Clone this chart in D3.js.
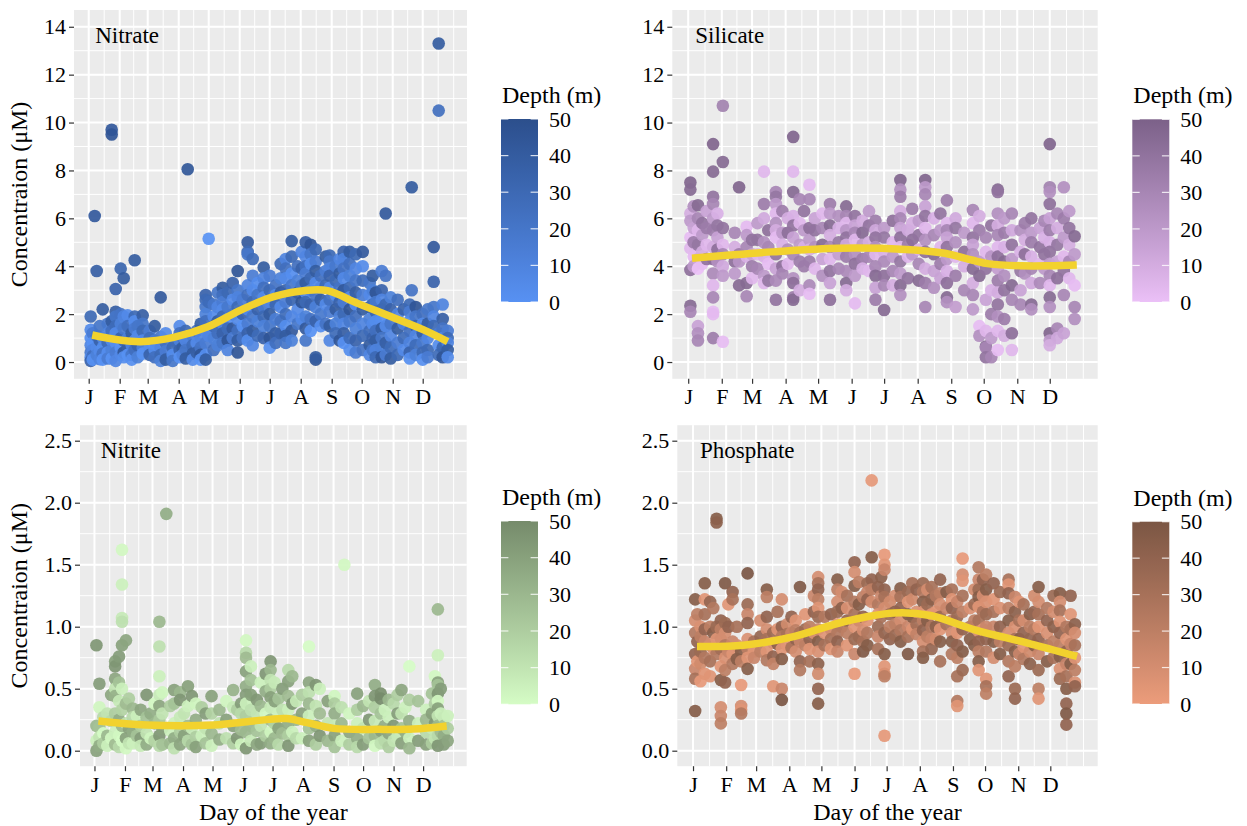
<!DOCTYPE html>
<html><head><meta charset="utf-8">
<script src="https://cdn.jsdelivr.net/npm/d3@7"></script>
<style>body{margin:0;background:#fff} text{font-family:"Liberation Serif","Times New Roman",serif;fill:#000}</style>
</head><body>
<svg id="chart" width="1247" height="826"></svg>
<script>
// ---------- axis values ----------
const monthDays = [1,32,60,91,121,152,182,213,244,274,305,335];
const monthLabels = ["J","F","M","A","M","J","J","A","S","O","N","D"];
const topYTicks = [0,2,4,6,8,10,12,14];
const bottomYTicks = [0,0.5,1,1.5,2,2.5];
const depthTicks = [0,10,20,30,40,50];

// ---------- data: [day, [[concentration, depth], ...]] ----------
const nitrate = [
 [3,[[1.9,30],[1.35,5],[1.0,2],[0.7,10],[0.4,20],[0.2,3],[0.05,35]]],
 [5,[[1.2,15],[0.8,0],[0.5,8],[0.25,25],[0.1,0]]],
 [7,[[6.1,42]]],
 [9,[[3.8,38],[1.1,20],[0.6,5],[0.3,12]]],
 [12,[[1.5,20],[0.9,35],[0.45,5],[0.12,10]]],
 [15,[[2.2,40],[1.0,8],[0.6,3],[0.35,22],[0.1,0]]],
 [20,[[1.6,18],[1.2,10],[0.8,30],[0.4,2],[0.15,15]]],
 [24,[[9.7,42],[9.5,45],[1.7,40],[1.3,25],[0.9,5],[0.5,12],[0.15,0]]],
 [28,[[3.05,35],[2.1,38],[1.9,20],[1.5,28],[1.2,5],[0.8,2],[0.4,15],[0.05,8]]],
 [33,[[3.9,33],[2.0,22],[1.6,12],[1.0,35],[0.6,0],[0.3,6]]],
 [36,[[3.5,40],[1.9,10],[1.4,18],[0.9,30],[0.4,45],[0.2,3]]],
 [40,[[1.95,5],[1.5,25],[1.0,12],[0.6,38],[0.3,0]]],
 [44,[[1.2,40],[0.7,10],[0.3,20],[0.1,2]]],
 [47,[[4.25,40],[1.9,30],[1.7,3],[1.4,15],[0.9,8],[0.5,25]]],
 [50,[[1.5,20],[1.1,5],[0.7,35],[0.2,12]]],
 [55,[[1.95,38],[1.6,20],[1.3,30],[0.9,5],[0.6,12],[0.35,0]]],
 [62,[[1.3,15],[1.0,28],[0.6,3],[0.3,35]]],
 [67,[[1.5,40],[0.9,15],[0.5,3],[0.2,25]]],
 [73,[[2.7,42],[1.05,20],[0.6,8],[0.3,30],[0.05,12]]],
 [78,[[1.2,5],[0.8,25],[0.45,15],[0.1,40]]],
 [85,[[0.9,10],[0.6,30],[0.3,3],[0.05,20]]],
 [92,[[1.5,5],[1.2,25],[0.9,12],[0.5,35],[0.2,0]]],
 [95,[[1.0,20],[0.6,40],[0.3,10]]],
 [98,[[1.3,30],[0.9,8],[0.5,20],[0.15,40]]],
 [100,[[8.05,44]]],
 [105,[[1.1,15],[0.7,28],[0.35,40],[0.1,5]]],
 [109,[[1.3,25],[0.8,5],[0.4,38]]],
 [113,[[1.6,38],[1.0,10],[0.6,22],[0.3,45],[0.1,0]]],
 [118,[[2.8,35],[2.6,30],[2.3,20],[2.0,12],[1.7,25],[1.3,5],[0.8,15],[0.3,2],[0.1,40]]],
 [121,[[5.15,0],[2.5,28],[1.1,8]]],
 [126,[[2.4,20],[1.9,5],[1.5,30],[1.0,12],[0.5,25]]],
 [130,[[2.9,20],[2.3,8],[1.7,40],[1.2,25],[0.7,12]]],
 [135,[[3.1,40],[2.8,25],[2.5,15],[2.2,5],[1.9,30],[1.6,10],[1.2,35],[0.8,20]]],
 [140,[[2.9,30],[2.3,18],[1.8,2],[1.4,28],[0.9,45],[0.5,10]]],
 [145,[[3.3,35],[2.6,5],[2.0,20],[1.4,42],[1.0,15]]],
 [150,[[3.8,45],[3.0,20],[2.7,10],[2.3,30],[1.8,5],[1.3,25],[0.9,40],[0.4,45]]],
 [155,[[2.6,15],[2.0,35],[1.5,0],[1.0,22]]],
 [160,[[5.0,42],[4.6,30],[4.5,20],[3.2,10],[2.8,25],[2.2,5],[1.6,15],[1.2,35],[0.9,3]]],
 [165,[[4.3,28],[3.6,15],[3.0,5],[2.5,30],[1.9,20],[1.3,40],[0.7,8]]],
 [170,[[3.3,3],[2.8,20],[2.2,35],[1.7,12],[1.1,28]]],
 [176,[[3.95,40],[3.5,10],[3.1,25],[2.7,5],[2.3,18],[1.9,30],[1.5,12],[1.0,35]]],
 [182,[[3.6,15],[3.0,30],[2.5,8],[2.0,40],[1.5,20],[1.0,45],[0.6,2]]],
 [188,[[3.2,22],[2.8,5],[2.4,32],[1.8,14],[1.2,38],[0.8,25]]],
 [193,[[4.1,30],[3.5,12],[2.9,42],[2.3,5],[1.7,22],[1.2,35]]],
 [198,[[4.3,10],[3.9,25],[3.5,5],[3.0,35],[2.5,15],[2.0,28],[1.5,3],[1.1,40],[0.8,20]]],
 [204,[[5.05,40],[4.4,30],[3.7,2],[3.2,18],[2.6,32],[1.9,8],[1.3,42],[0.9,12]]],
 [210,[[4.0,25],[3.4,12],[2.9,38],[2.2,6],[1.6,20]]],
 [214,[[4.6,10],[3.9,35],[3.2,20],[2.5,45],[1.8,5]]],
 [218,[[5.0,38],[4.4,8],[4.0,25],[3.7,15],[3.3,40],[2.9,5],[2.5,30],[1.9,12],[1.4,42],[0.9,20]]],
 [223,[[4.9,45],[4.5,20],[4.1,3],[3.5,30],[3.0,10],[2.4,35],[1.8,22],[1.3,0]]],
 [228,[[4.7,30],[4.2,15],[3.8,40],[3.3,5],[2.8,22],[2.3,12],[1.7,35],[0.1,45],[0.2,40]]],
 [233,[[3.6,25],[3.1,8],[2.6,38],[2.0,18],[1.5,2]]],
 [238,[[4.4,40],[3.8,15],[3.2,30],[2.4,5],[1.6,22]]],
 [242,[[4.45,30],[4.2,20],[3.9,10],[3.6,35],[3.1,5],[2.6,25],[2.1,15],[1.5,40],[0.9,8]]],
 [248,[[4.0,18],[3.4,30],[2.8,2],[2.2,40],[1.6,12],[1.2,28]]],
 [252,[[4.3,8],[3.7,40],[3.1,22],[2.5,35],[1.9,12],[0.9,45]]],
 [256,[[4.6,35],[4.3,10],[3.9,22],[3.5,5],[3.0,42],[2.5,15],[2.0,30],[1.6,8],[1.2,38],[0.8,0]]],
 [262,[[4.6,40],[4.1,25],[3.6,12],[3.1,30],[2.7,5],[2.2,45],[1.7,18],[1.0,28],[0.5,3]]],
 [268,[[4.5,30],[3.9,8],[3.4,20],[2.9,38],[2.4,2],[1.9,25],[1.4,12],[0.9,35],[0.4,15]]],
 [275,[[4.6,42],[4.0,5],[3.4,28],[2.8,15],[2.2,40],[1.6,10],[1.1,30],[0.5,22]]],
 [282,[[3.3,20],[2.8,5],[2.3,35],[1.8,12],[1.3,28],[0.7,40],[0.3,8]]],
 [285,[[3.6,40],[3.0,12],[2.4,28],[1.6,5],[1.0,35],[0.5,20]]],
 [288,[[2.9,45],[2.5,18],[2.1,32],[1.7,3],[1.3,25],[0.9,40],[0.5,10],[0.2,30]]],
 [294,[[3.8,15],[3.0,35],[2.6,8],[2.2,28],[1.8,2],[1.4,40],[1.0,20],[0.6,12],[0.2,45]]],
 [298,[[6.2,42],[3.6,22],[2.4,30],[1.5,5],[0.8,38],[0.3,15]]],
 [303,[[2.7,12],[2.2,35],[1.6,20],[1.1,8],[0.6,28],[0.15,40]]],
 [310,[[2.6,25],[2.0,8],[1.4,40],[0.8,15],[0.3,30]]],
 [316,[[2.2,35],[1.6,10],[1.0,28],[0.5,5]]],
 [322,[[2.4,30],[2.1,15],[1.7,5],[1.3,25],[0.8,10],[0.4,35],[0.15,2]]],
 [324,[[7.3,40],[3.0,22]]],
 [328,[[2.3,45],[1.9,20],[1.5,35],[1.1,8],[0.7,28],[0.3,12]]],
 [335,[[2.0,25],[1.6,5],[1.2,38],[0.8,18],[0.4,30],[0.1,2]]],
 [340,[[2.2,20],[1.6,40],[1.0,8],[0.5,30],[0.2,15]]],
 [346,[[4.8,42],[3.35,35],[2.3,20],[1.9,8],[1.5,30]]],
 [351,[[13.3,40],[10.5,25],[1.2,15],[0.7,3],[0.3,28]]],
 [355,[[2.4,10],[1.8,38],[1.4,22],[1.0,5],[0.6,32],[0.2,45]]],
 [360,[[1.3,15],[1.0,30],[0.8,10],[0.5,40],[0.2,5]]]
];

const silicate = [
 [3,[[7.5,48],[7.2,45],[6.2,10],[5.9,20],[5.2,2],[4.75,5],[3.85,42],[2.35,45],[2.1,30]]],
 [6,[[6.5,25],[5.6,15],[5.0,35],[4.4,3],[4.0,20]]],
 [10,[[6.55,45],[6.0,30],[5.5,5],[4.9,38],[4.3,12],[3.9,0],[1.5,15],[1.2,25],[0.9,30]]],
 [14,[[5.8,40],[5.3,20],[4.6,10],[4.1,2]]],
 [18,[[6.3,15],[5.6,35],[4.9,5],[4.3,40]]],
 [24,[[9.1,48],[7.95,45],[6.9,40],[6.6,30],[6.0,20],[5.5,35],[4.8,10],[4.3,42],[3.7,28],[3.2,5],[2.7,30],[2.1,2],[2.0,3],[1.0,35]]],
 [28,[[6.2,8],[5.7,38],[5.2,15],[4.7,42],[4.2,25]]],
 [33,[[10.7,32],[8.35,45],[5.6,40],[4.9,5],[4.5,30],[4.0,12],[3.6,20],[0.85,2]]],
 [44,[[5.4,30],[4.8,10],[4.2,42],[3.7,20]]],
 [48,[[7.3,48],[4.5,35],[4.2,22],[3.2,45]]],
 [55,[[5.65,3],[5.3,20],[4.8,30],[4.4,8],[3.3,45],[2.75,30]]],
 [60,[[5.1,40],[4.5,15],[4.0,35],[3.5,5]]],
 [65,[[5.8,20],[5.1,40],[4.5,5],[3.9,30]]],
 [71,[[7.95,5],[6.6,35],[6.0,12],[5.0,25],[4.4,8],[3.6,20],[3.3,5]]],
 [75,[[5.5,42],[4.8,30],[4.1,2],[3.4,38]]],
 [82,[[7.1,30],[6.9,38],[6.6,20],[6.2,5],[5.8,25],[5.5,10],[5.2,3],[4.5,40],[3.9,15],[3.4,28],[2.6,40]]],
 [88,[[6.3,35],[5.4,20],[4.9,8],[4.0,42],[3.7,30]]],
 [93,[[6.0,10],[5.4,42],[4.7,25],[4.1,5]]],
 [98,[[9.4,48],[7.95,5],[7.1,45],[6.1,8],[5.7,40],[5.2,15],[4.5,30],[3.5,25],[3.3,42],[2.7,35],[2.6,45]]],
 [104,[[6.8,30],[5.8,5],[4.9,20],[4.2,35],[3.0,10]]],
 [108,[[6.3,40],[5.5,20],[4.8,8],[4.0,35]]],
 [113,[[7.4,3],[6.8,30],[5.6,42],[5.1,20],[4.7,8],[4.2,35],[3.2,28],[2.85,2]]],
 [118,[[6.0,15],[5.5,40],[4.8,25],[3.9,5]]],
 [125,[[6.2,5],[5.6,30],[4.9,45],[4.3,15],[3.6,25]]],
 [132,[[6.6,35],[6.2,20],[5.7,45],[5.3,10],[4.8,30],[4.3,5],[3.8,40],[3.3,15],[2.6,42]]],
 [140,[[6.1,25],[5.6,8],[5.0,38],[4.5,18],[3.9,30]]],
 [147,[[6.5,45],[6.1,30],[5.8,5],[5.5,22],[5.2,40],[4.9,12],[4.4,35],[3.8,28],[3.3,45],[3.0,10]]],
 [155,[[6.1,40],[5.7,15],[5.4,30],[5.1,5],[4.5,25],[4.1,42],[3.6,20],[2.45,3]]],
 [162,[[5.9,10],[5.4,45],[4.9,20],[4.3,35],[3.9,8]]],
 [168,[[6.3,20],[5.7,40],[5.0,10],[4.4,30],[3.8,5]]],
 [174,[[5.9,35],[5.5,12],[5.2,40],[4.8,25],[4.5,5],[4.0,30],[3.6,45],[3.1,15],[2.6,35]]],
 [182,[[5.6,20],[5.2,38],[4.6,8],[4.2,28],[3.6,42],[3.2,30],[2.17,45]]],
 [190,[[5.9,42],[5.0,5],[4.4,20],[3.8,30],[3.2,10]]],
 [197,[[7.6,48],[7.2,25],[6.9,35],[6.3,10],[6.0,30],[5.6,15],[5.2,42],[4.8,5],[4.2,38],[3.7,20],[3.2,45],[2.8,25]]],
 [204,[[5.5,12],[4.9,35],[4.4,5],[3.5,40]]],
 [208,[[6.4,35],[5.8,10],[5.1,42],[4.5,20]]],
 [214,[[5.9,20],[5.3,40],[4.7,8],[4.1,30],[3.4,45]]],
 [220,[[7.6,48],[7.3,20],[7.0,30],[6.5,15],[6.1,40],[5.6,5],[5.1,25],[4.6,42],[3.9,10],[3.3,35],[2.3,30]]],
 [228,[[6.0,8],[5.3,30],[4.5,45],[3.8,15],[3.1,25]]],
 [234,[[6.2,40],[5.5,20],[4.8,5],[4.1,35],[3.5,15]]],
 [240,[[6.75,35],[5.8,5],[5.5,30],[5.2,15],[4.8,40],[4.3,20],[3.8,8],[3.3,42],[2.7,45],[2.5,25]]],
 [248,[[6.0,12],[5.6,38],[5.0,25],[4.4,5],[3.6,35],[2.3,18]]],
 [256,[[5.4,20],[4.6,42],[4.0,10],[3.0,30]]],
 [264,[[6.35,30],[5.8,5],[5.2,40],[4.9,15],[4.5,25],[3.9,45],[3.3,10],[2.8,30],[2.2,20]]],
 [270,[[6.1,10],[5.5,35],[4.2,20],[3.6,45],[1.5,2],[1.1,25]]],
 [276,[[5.2,30],[4.6,5],[3.9,40],[2.6,15],[1.3,5],[0.65,45],[0.6,30],[0.2,40]]],
 [281,[[5.7,40],[4.4,22],[3.0,8],[2.0,35],[1.0,20],[0.2,30]]],
 [287,[[7.2,45],[7.1,40],[6.2,25],[5.7,10],[5.3,30],[4.8,5],[4.4,42],[3.9,18],[3.4,35],[2.9,10],[2.4,40],[1.9,25],[1.3,5],[0.5,2]]],
 [293,[[6.0,20],[5.4,35],[4.8,8],[4.2,45],[3.6,25],[3.0,40],[1.8,35],[1.1,10]]],
 [300,[[6.2,30],[5.5,12],[4.9,40],[4.3,20],[3.2,45],[2.6,30],[1.2,42],[0.5,5]]],
 [308,[[5.5,25],[4.6,8],[3.8,38],[3.0,15],[2.4,30]]],
 [312,[[5.8,35],[5.1,10],[4.5,42],[3.7,25]]],
 [318,[[6.0,40],[5.4,20],[5.0,35],[4.4,8],[3.9,30],[3.3,12],[2.4,45],[2.2,25]]],
 [326,[[5.6,15],[4.8,40],[4.1,5],[3.3,28]]],
 [330,[[5.9,30],[5.2,8],[4.5,40],[3.9,20]]],
 [335,[[9.1,48],[7.3,32],[7.1,25],[6.6,42],[6.0,15],[5.5,35],[5.0,8],[4.6,40],[4.1,20],[3.6,30],[3.2,5],[2.7,45],[2.3,25],[1.2,48],[0.9,20],[0.7,10]]],
 [342,[[6.2,30],[5.6,10],[4.9,38],[4.2,15],[3.5,42],[1.4,30],[1.0,12]]],
 [348,[[7.3,25],[6.0,35],[5.2,20],[4.4,5],[3.8,40],[2.8,30],[1.2,15]]],
 [353,[[6.3,20],[5.6,40],[4.9,10],[4.2,30],[3.5,5]]],
 [358,[[5.25,45],[4.5,20],[3.2,2],[2.3,30],[1.8,25]]]
];

const nitrite = [
 [3,[[0.85,45],[0.2,30],[0.08,5],[0.0,40]]],
 [6,[[0.54,42],[0.35,3],[0.19,25],[0.11,10],[0.04,35]]],
 [10,[[0.27,15],[0.14,0],[0.06,20]]],
 [14,[[0.3,10],[0.12,30],[0.04,5]]],
 [18,[[0.45,38],[0.24,15],[0.1,2]]],
 [22,[[0.72,40],[0.68,45],[0.58,38],[0.5,10],[0.44,32],[0.3,20],[0.15,5],[0.05,28]]],
 [26,[[0.76,42],[0.55,25],[0.4,8],[0.25,35],[0.12,2],[0.03,15]]],
 [29,[[1.62,2],[1.34,5],[1.07,8],[1.04,12],[0.85,40],[0.5,5],[0.33,18],[0.2,30],[0.08,0]]],
 [33,[[0.89,38],[0.38,28],[0.22,10],[0.1,40],[0.02,2]]],
 [36,[[0.42,20],[0.18,40],[0.06,10]]],
 [40,[[0.34,30],[0.27,15],[0.15,35],[0.06,5]]],
 [44,[[0.28,5],[0.12,25]]],
 [48,[[0.33,38],[0.2,20],[0.1,42],[0.04,8]]],
 [54,[[0.45,45],[0.27,25],[0.14,10],[0.05,35]]],
 [58,[[0.3,35],[0.1,3]]],
 [62,[[0.38,2],[0.22,30],[0.08,18]]],
 [67,[[1.04,30],[0.84,12],[0.6,5],[0.45,8],[0.36,38],[0.25,22],[0.12,45],[0.04,15]]],
 [70,[[0.47,3],[0.3,10],[0.18,40],[0.05,25]]],
 [74,[[1.91,35]]],
 [78,[[0.36,20],[0.16,5],[0.06,30]]],
 [82,[[0.49,40],[0.38,25],[0.22,5],[0.1,35],[0.02,12]]],
 [88,[[0.47,30],[0.41,45],[0.27,8],[0.15,20],[0.05,38]]],
 [92,[[0.3,10],[0.12,40]]],
 [96,[[0.52,40],[0.36,5],[0.2,28],[0.08,15]]],
 [100,[[0.44,45],[0.18,8],[0.05,25]]],
 [104,[[0.38,3],[0.25,35],[0.11,20],[0.03,40]]],
 [110,[[0.35,20],[0.12,5]]],
 [114,[[0.3,42],[0.18,10],[0.06,25]]],
 [120,[[0.44,40],[0.3,18],[0.14,30],[0.04,5]]],
 [128,[[0.33,30],[0.22,12],[0.09,35]]],
 [135,[[0.4,3],[0.25,40],[0.1,12]]],
 [142,[[0.49,32],[0.35,8],[0.2,40],[0.06,20]]],
 [146,[[0.33,20],[0.1,45]]],
 [150,[[0.38,42],[0.3,15],[0.17,28],[0.05,3]]],
 [155,[[0.89,2],[0.79,15],[0.75,28],[0.64,40],[0.52,35],[0.45,42],[0.38,5],[0.28,20],[0.15,30],[0.02,45]]],
 [160,[[0.68,5],[0.57,25],[0.45,40],[0.33,12],[0.2,30],[0.08,8]]],
 [166,[[0.41,44],[0.3,10],[0.16,25],[0.05,38]]],
 [170,[[0.55,5],[0.36,30],[0.2,10],[0.06,42]]],
 [175,[[0.62,45],[0.48,35],[0.3,2],[0.12,20]]],
 [180,[[0.72,45],[0.65,30],[0.57,10],[0.5,20],[0.43,40],[0.35,8],[0.25,28],[0.15,3],[0.06,35]]],
 [184,[[0.55,8],[0.4,40],[0.22,18],[0.1,30]]],
 [188,[[0.42,25],[0.3,5],[0.18,40],[0.05,15]]],
 [192,[[0.5,42],[0.33,12],[0.14,28]]],
 [198,[[0.65,15],[0.56,40],[0.44,28],[0.33,5],[0.22,35],[0.12,20],[0.04,45]]],
 [202,[[0.6,30],[0.38,45],[0.15,5]]],
 [206,[[0.4,8],[0.25,30],[0.1,15]]],
 [212,[[0.45,20],[0.3,40],[0.1,5]]],
 [219,[[0.84,0],[0.55,38],[0.47,12],[0.38,30],[0.28,5],[0.18,25],[0.08,40]]],
 [226,[[0.53,45],[0.36,10],[0.2,35],[0.05,20]]],
 [230,[[0.5,5],[0.3,28],[0.12,45]]],
 [238,[[0.4,40],[0.22,10],[0.08,30]]],
 [245,[[0.44,3],[0.38,20],[0.3,35],[0.2,8],[0.12,40],[0.03,25]]],
 [252,[[0.35,12],[0.22,30],[0.08,5]]],
 [255,[[1.5,2]]],
 [260,[[0.3,3],[0.15,38],[0.05,20]]],
 [268,[[0.46,40],[0.33,20],[0.22,5],[0.1,35],[0.03,15]]],
 [274,[[0.36,30],[0.18,10],[0.05,42]]],
 [280,[[0.4,10],[0.25,45],[0.1,25]]],
 [286,[[0.53,35],[0.44,45],[0.35,20],[0.24,8],[0.12,30],[0.04,2]]],
 [292,[[0.46,48],[0.42,50],[0.3,25],[0.16,40],[0.06,12]]],
 [296,[[0.33,5],[0.2,35],[0.08,15]]],
 [300,[[0.41,30],[0.27,5],[0.14,38],[0.03,20]]],
 [305,[[0.38,15],[0.2,45],[0.08,10]]],
 [309,[[0.45,20],[0.3,42],[0.12,8]]],
 [313,[[0.49,38],[0.3,10],[0.18,25],[0.06,40]]],
 [317,[[0.35,5],[0.15,35]]],
 [321,[[0.68,0],[0.41,20],[0.24,35],[0.1,5],[0.02,30]]],
 [330,[[0.4,25],[0.22,5],[0.08,42]]],
 [338,[[0.33,5],[0.25,30],[0.15,15],[0.05,40]]],
 [344,[[0.46,25],[0.3,40],[0.18,8],[0.06,20]]],
 [347,[[0.6,2],[0.38,20],[0.22,45],[0.1,10]]],
 [350,[[1.14,30],[0.77,5],[0.55,40],[0.53,25],[0.46,45],[0.4,2],[0.34,40],[0.28,10],[0.2,30],[0.12,15],[0.04,45]]],
 [353,[[0.5,42],[0.3,5],[0.15,28]]],
 [356,[[0.27,8],[0.2,25],[0.12,35],[0.05,42]]],
 [360,[[0.28,5],[0.18,20],[0.08,38]]]
];

const phosphate = [
 [3,[[1.22,45],[1.05,10],[0.95,25],[0.78,40],[0.66,15],[0.58,30],[0.32,45]]],
 [5,[[1.1,20],[0.88,40],[0.72,5]]],
 [8,[[1.0,8],[0.92,20],[0.8,35],[0.7,12],[0.56,2]]],
 [12,[[1.35,45],[1.22,5],[1.1,30],[0.98,40],[0.88,15],[0.75,25],[0.62,5]]],
 [17,[[1.2,38],[1.0,20],[0.85,10],[0.72,30],[0.6,5]]],
 [20,[[1.15,25],[0.95,45],[0.82,8]]],
 [23,[[1.87,45],[1.84,42],[1.0,35],[0.9,5],[0.78,25]]],
 [27,[[1.05,40],[0.98,20],[0.9,10],[0.82,32],[0.68,5],[0.57,45],[0.35,10],[0.28,15],[0.22,20]]],
 [31,[[1.35,48],[1.03,35],[0.95,10],[0.85,25],[0.75,8],[0.65,20],[0.55,40]]],
 [34,[[1.18,5],[1.0,40],[0.8,15]]],
 [38,[[1.28,40],[1.22,30],[0.88,15],[0.78,5],[0.7,25]]],
 [42,[[1.0,30],[0.85,10],[0.74,45]]],
 [46,[[0.8,45],[0.72,20],[0.53,2],[0.36,10],[0.33,5],[0.3,25]]],
 [52,[[1.43,50],[1.18,35],[1.1,15],[1.03,40],[0.9,8],[0.82,20],[0.75,5],[0.66,45]]],
 [58,[[0.88,30],[0.8,5],[0.75,15]]],
 [64,[[1.05,10],[0.92,38],[0.8,20]]],
 [70,[[1.3,45],[1.24,20],[1.08,40],[0.98,10],[0.9,30],[0.8,5],[0.73,25]]],
 [76,[[0.95,35],[0.87,8],[0.76,40],[0.7,18],[0.52,5]]],
 [80,[[1.12,30],[0.98,5],[0.86,42]]],
 [84,[[1.22,10],[1.0,40],[0.92,25],[0.82,5],[0.74,45],[0.5,15],[0.41,50]]],
 [89,[[1.02,12],[0.94,30],[0.85,5]]],
 [93,[[1.08,40],[0.95,15],[0.83,30]]],
 [97,[[1.05,5],[0.97,20],[0.9,40],[0.8,10]]],
 [101,[[1.32,48],[0.95,30],[0.88,15],[0.72,40],[0.65,25]]],
 [106,[[1.1,5],[0.98,35],[0.85,20]]],
 [110,[[1.0,20],[0.9,40],[0.82,5],[0.72,30]]],
 [114,[[1.25,15],[1.12,40],[0.95,8]]],
 [118,[[1.4,10],[1.35,30],[1.3,40],[1.22,20],[1.15,5],[1.08,35],[0.98,15],[0.88,45],[0.8,8],[0.7,42],[0.62,12],[0.5,40],[0.38,45]]],
 [124,[[1.08,25],[0.95,5],[0.85,30]]],
 [130,[[1.1,40],[0.98,12],[0.9,30],[0.82,5]]],
 [136,[[1.38,45],[1.3,20],[1.2,10],[1.12,35],[1.02,5],[0.95,25],[0.88,40],[0.8,15]]],
 [140,[[1.28,10],[1.15,42],[1.0,25]]],
 [145,[[1.25,30],[1.15,8],[1.05,40],[0.95,20],[0.85,5]]],
 [152,[[1.52,40],[1.44,10],[1.33,45],[1.2,25],[1.1,30],[1.0,5],[0.9,35],[0.78,15],[0.62,2]]],
 [156,[[1.36,20],[1.18,45],[1.05,12],[0.92,35]]],
 [160,[[1.24,20],[1.08,40],[0.97,10],[0.88,30],[0.8,48]]],
 [164,[[1.35,35],[1.28,15],[1.22,40],[1.05,5],[0.95,25],[0.85,45]]],
 [168,[[2.18,3],[1.56,45],[1.38,40],[1.3,20],[1.2,10]]],
 [174,[[1.32,40],[1.18,25],[1.1,5],[1.0,35],[0.92,15],[0.82,30]]],
 [177,[[1.4,42],[1.25,15],[1.08,30]]],
 [180,[[1.58,2],[1.5,5],[1.46,15],[1.3,40],[1.24,30],[1.15,10],[0.95,38],[0.78,45],[0.68,5],[0.62,8],[0.6,20],[0.12,3]]],
 [185,[[1.2,12],[1.1,35],[1.0,20],[0.9,40]]],
 [190,[[1.25,10],[1.12,42],[1.02,20],[0.93,35]]],
 [195,[[1.31,45],[1.24,30],[1.15,40],[1.05,10],[0.97,25],[0.88,45]]],
 [202,[[1.28,35],[1.2,5],[1.1,45],[1.0,15],[0.92,30],[0.78,48]]],
 [206,[[1.35,30],[1.22,12],[1.08,45],[0.98,5]]],
 [210,[[1.3,40],[1.12,8],[1.02,32],[0.94,18]]],
 [216,[[1.35,35],[1.28,25],[1.2,45],[1.12,5],[1.05,20],[0.97,40],[0.88,10],[0.8,30],[0.75,45]]],
 [220,[[1.3,10],[1.18,35],[1.05,45],[0.92,20]]],
 [224,[[1.32,30],[1.22,42],[1.1,5],[1.0,25],[0.9,15],[0.82,38]]],
 [228,[[1.25,25],[1.12,5],[1.0,42],[0.9,12]]],
 [232,[[1.38,40],[1.27,20],[1.18,10],[1.08,35],[0.98,5],[0.88,45],[0.72,30]]],
 [238,[[1.28,45],[1.15,15],[1.02,30]]],
 [243,[[1.3,30],[1.22,5],[1.15,40],[1.05,20],[0.95,10],[0.88,45],[0.78,25]]],
 [248,[[1.2,15],[1.08,35],[0.95,5],[0.85,40],[0.75,20],[0.6,30],[0.4,25],[0.36,5]]],
 [253,[[1.55,2],[1.42,10],[1.37,5],[1.25,30],[1.12,20],[0.98,40],[0.8,45],[0.65,35]]],
 [260,[[1.15,8],[1.0,25],[0.9,45]]],
 [264,[[1.3,12],[1.18,35],[1.05,20],[0.85,45]]],
 [268,[[1.48,25],[1.38,15],[1.3,35],[1.24,45],[1.16,5],[1.05,30],[0.96,10],[0.88,40],[0.8,20],[0.72,45],[0.65,5]]],
 [272,[[1.38,40],[1.25,10],[1.12,28],[0.98,5]]],
 [275,[[1.42,20],[1.3,45],[1.2,8],[1.1,35],[1.0,15],[0.9,40],[0.8,25],[0.58,5],[0.52,30],[0.46,20]]],
 [282,[[1.35,40],[1.22,5],[1.12,30],[1.0,15],[0.88,45],[0.75,10]]],
 [288,[[1.28,35],[1.15,8],[1.0,40],[0.88,20],[0.78,45]]],
 [296,[[1.38,30],[1.34,5],[1.27,40],[1.15,20],[1.05,45],[0.95,10],[0.85,35],[0.72,25],[0.6,40]]],
 [302,[[1.24,15],[1.12,42],[1.0,8],[0.9,30],[0.8,45],[0.68,20],[0.5,35],[0.42,40]]],
 [306,[[1.2,5],[1.05,30],[0.9,45],[0.78,15]]],
 [310,[[1.18,30],[1.05,10],[0.95,40],[0.84,5],[0.74,25]]],
 [316,[[1.1,45],[1.0,20],[0.9,38],[0.8,12],[0.7,42]]],
 [320,[[1.25,12],[1.12,38],[0.98,25],[0.85,45]]],
 [324,[[1.32,45],[1.2,10],[1.1,30],[1.0,5],[0.9,40],[0.78,15],[0.65,35],[0.5,20],[0.42,5]]],
 [332,[[1.15,25],[1.05,40],[0.95,8],[0.85,30],[0.72,45]]],
 [338,[[1.25,35],[1.12,10],[1.0,42],[0.88,20],[0.75,30]]],
 [344,[[1.27,45],[1.2,10],[1.13,30],[1.04,5],[0.95,40],[0.85,20],[0.76,45],[0.66,8],[0.58,35]]],
 [350,[[1.0,25],[0.9,5],[0.8,40],[0.7,15],[0.6,30],[0.5,45],[0.38,40],[0.3,48],[0.21,40]]],
 [354,[[1.25,40],[1.1,5],[0.98,30],[0.86,15],[0.7,45]]],
 [358,[[1.02,42],[0.95,10],[0.85,30],[0.75,5],[0.65,20],[0.55,8],[0.52,40]]]
];

// ---------- smoothed trend: [day, concentration] ----------
const nitrateSmooth = [[4.5,1.13],[30,0.93],[53,0.85],[86,1.03],[120,1.47],[153,2.17],[186,2.73],[220,3.0],[240,2.98],[270,2.45],[303,1.9],[336,1.34],[360,0.85]];
const silicateSmooth = [[4.5,4.33],[40,4.47],[78,4.6],[140,4.75],[202,4.7],[238,4.54],[263,4.26],[279,4.1],[309,4.02],[335,4.02],[360,4.05]];
const nitriteSmooth = [[5,0.24],[54,0.207],[122,0.207],[156,0.234],[196,0.26],[217,0.226],[244,0.18],[291,0.172],[325,0.175],[359,0.2]];
const phosphateSmooth = [[4.7,0.84],[48,0.85],[95,0.92],[142,1.04],[189,1.11],[223,1.09],[266,0.97],[313,0.87],[360,0.76]];

// ---------- layout ----------
const svg = d3.select("#chart");
const xDomain = [-13.7, 379.3];
const depthDomain = [0, 50];
const panels = [
  {name:"Nitrate", data:nitrate, smooth:nitrateSmooth, low:"#5791f3", high:"#2c4f8c",
   left:74, right:467, top:10, bottom:378.8, yDomain:[-0.7,14.7], yTicks:topYTicks, fmt:d3.format("d"),
   legX:501, legTop:119, legBottom:302, yTitle:true, xTitle:false},
  {name:"Silicate", data:silicate, smooth:silicateSmooth, low:"#ebc0f7", high:"#7c6189",
   left:672.3, right:1097.7, top:10, bottom:378.8, yDomain:[-0.7,14.7], yTicks:topYTicks, fmt:d3.format("d"),
   legX:1132.3, legTop:119.3, legBottom:302, yTitle:false, xTitle:false},
  {name:"Nitrite", data:nitrite, smooth:nitriteSmooth, low:"#d5fcc5", high:"#768b6b",
   left:80, right:466.7, top:425.2, bottom:766.2, yDomain:[-0.125,2.625], yTicks:bottomYTicks, fmt:d3.format(".1f"),
   legX:501, legTop:521, legBottom:704.3, yTitle:true, xTitle:true},
  {name:"Phosphate", data:phosphate, smooth:phosphateSmooth, low:"#ec9c7b", high:"#7b5644",
   left:677.3, right:1097.7, top:425.2, bottom:766.2, yDomain:[-0.125,2.625], yTicks:bottomYTicks, fmt:d3.format(".1f"),
   legX:1132.3, legTop:521.7, legBottom:704, yTitle:false, xTitle:true}
];

function minorBreaks(b, dom){
  const bd = b[1]-b[0];
  let bb = b.slice();
  if (dom[0] < bb[0]) bb.unshift(bb[0]-bd);
  if (dom[1] > bb[bb.length-1]) bb.push(bb[bb.length-1]+bd);
  const out = [];
  for (let i=0;i<bb.length-1;i++){ out.push(bb[i], (bb[i]+bb[i+1])/2); }
  out.push(bb[bb.length-1]);
  return out.filter(v => v>=dom[0] && v<=dom[1]);
}

const defs = svg.append("defs");

panels.forEach((p, pi) => {
  const x = d3.scaleLinear().domain(xDomain).range([p.left, p.right]);
  const y = d3.scaleLinear().domain(p.yDomain).range([p.bottom, p.top]);
  const color = d3.scaleLinear().domain(depthDomain).range([p.low, p.high]).interpolate(d3.interpolateLab);
  const g = svg.append("g");

  g.append("rect").attr("x", p.left).attr("y", p.top)
    .attr("width", p.right-p.left).attr("height", p.bottom-p.top).attr("fill", "#ebebeb");

  // grid
  const xMinor = minorBreaks(monthDays, xDomain);
  const yMinor = minorBreaks(p.yTicks, p.yDomain);
  g.selectAll(".vminor").data(xMinor).join("line")
    .attr("x1", d=>x(d)).attr("x2", d=>x(d)).attr("y1", p.top).attr("y2", p.bottom)
    .attr("stroke", "#fff").attr("stroke-width", 1);
  g.selectAll(".hminor").data(yMinor).join("line")
    .attr("y1", d=>y(d)).attr("y2", d=>y(d)).attr("x1", p.left).attr("x2", p.right)
    .attr("stroke", "#fff").attr("stroke-width", 1);
  g.selectAll(".vmajor").data(monthDays).join("line")
    .attr("x1", d=>x(d)).attr("x2", d=>x(d)).attr("y1", p.top).attr("y2", p.bottom)
    .attr("stroke", "#fff").attr("stroke-width", 2);
  g.selectAll(".hmajor").data(p.yTicks).join("line")
    .attr("y1", d=>y(d)).attr("y2", d=>y(d)).attr("x1", p.left).attr("x2", p.right)
    .attr("stroke", "#fff").attr("stroke-width", 2);

  // points
  const pts = p.data.flatMap(([day, arr]) => arr.map(([v, d]) => ({day, v, d})));
  g.append("g").selectAll("circle").data(pts).join("circle")
    .attr("cx", d=>x(d.day)).attr("cy", d=>y(d.v)).attr("r", 6.3)
    .attr("fill", d=>color(d.d)).attr("fill-opacity", 0.92);

  // smooth line
  const line = d3.line().x(d=>x(d[0])).y(d=>y(d[1])).curve(d3.curveCatmullRom.alpha(0.5));
  g.append("path").datum(p.smooth).attr("d", line)
    .attr("fill", "none").attr("stroke", "#f2d22e").attr("stroke-width", 7.5).attr("stroke-linecap", "butt");

  // axes
  const xAxis = d3.axisBottom(x).tickValues(monthDays).tickFormat((d,i)=>monthLabels[i]).tickSize(5).tickPadding(5);
  const ax = g.append("g").attr("transform", `translate(0,${p.bottom})`).call(xAxis);
  const yAxis = d3.axisLeft(y).tickValues(p.yTicks).tickFormat(p.fmt).tickSize(5).tickPadding(3);
  const ay = g.append("g").attr("transform", `translate(${p.left},0)`).call(yAxis);
  [ax, ay].forEach(a => {
    a.attr("font-family", null).attr("font-size", null);
    a.select(".domain").remove();
    a.selectAll(".tick line").attr("stroke", "#333").attr("stroke-width", 1.2);
    a.selectAll(".tick text").attr("font-size", 22).attr("fill", "#000");
  });

  // panel label
  g.append("text").attr("x", x(7.5)).attr("y", p.top + 33)
    .attr("font-size", 23).text(p.name);

  // axis titles
  if (p.yTitle) {
    g.append("text").attr("transform", `translate(27,${(p.top+p.bottom)/2}) rotate(-90)`)
      .attr("text-anchor", "middle").attr("font-size", 24).text("Concentraion (\u03bcM)");
  }
  if (p.xTitle) {
    g.append("text").attr("x", (p.left+p.right)/2).attr("y", 820)
      .attr("text-anchor", "middle").attr("font-size", 24).text("Day of the year");
  }

  // legend
  const lw = 37;
  const gid = "grad"+pi;
  const grad = defs.append("linearGradient").attr("id", gid).attr("x1",0).attr("y1",1).attr("x2",0).attr("y2",0);
  d3.range(0, 51, 5).forEach(v => grad.append("stop").attr("offset", v/50).attr("stop-color", color(v)));
  const ly = d3.scaleLinear().domain(depthDomain).range([p.legBottom, p.legTop]);
  const lg = svg.append("g");
  lg.append("text").attr("x", p.legX+1).attr("y", p.legTop-16).attr("font-size", 24).text("Depth (m)");
  lg.append("rect").attr("x", p.legX).attr("y", p.legTop).attr("width", lw).attr("height", p.legBottom-p.legTop)
    .attr("fill", `url(#${gid})`);
  const tl = lw/5;
  lg.selectAll(".tl").data(depthTicks).join("line")
    .attr("x1", p.legX).attr("x2", p.legX+tl).attr("y1", d=>ly(d)).attr("y2", d=>ly(d))
    .attr("stroke", "#fff").attr("stroke-opacity", 0.8).attr("stroke-width", 1.2);
  lg.selectAll(".tr").data(depthTicks).join("line")
    .attr("x1", p.legX+lw-tl).attr("x2", p.legX+lw).attr("y1", d=>ly(d)).attr("y2", d=>ly(d))
    .attr("stroke", "#fff").attr("stroke-opacity", 0.8).attr("stroke-width", 1.2);
  lg.selectAll(".lab").data(depthTicks).join("text")
    .attr("x", p.legX+lw+11).attr("y", d=>ly(d)).attr("dy", "0.35em")
    .attr("font-size", 22).text(d=>d);
});
</script>
</body></html>
